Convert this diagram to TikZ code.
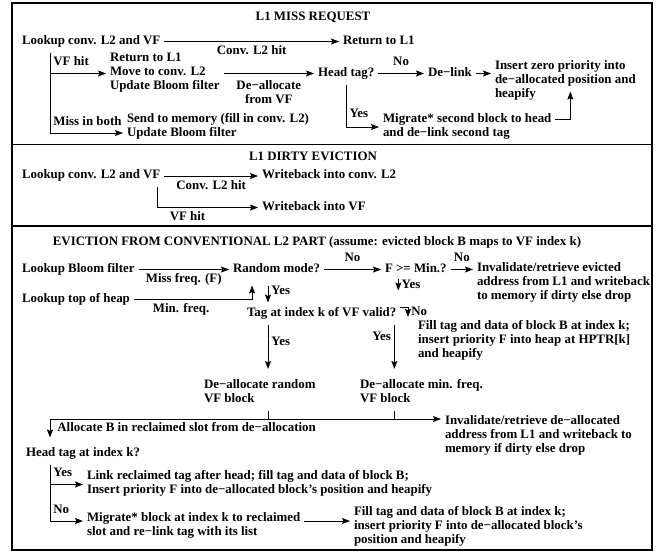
\documentclass[tikz,border=0pt]{standalone}
\usepackage{fontspec}
\setmainfont{Liberation Serif}
\usetikzlibrary{arrows.meta}
\begin{document}
\begin{tikzpicture}[x=1pt, y=-1pt, line width=0.8pt,
  font=\fontsize{12.9}{14}\selectfont\bfseries,
  txt/.style={anchor=west, inner sep=0pt, outer sep=4pt, align=left,
    execute at begin node=\strut, execute at end node=\strut},
  ttl/.style={inner sep=0pt, execute at begin node=\strut},
  lbl/.style={inner sep=3pt, execute at begin node=\strut},
  arr/.style={-{Stealth[length=8pt, width=6pt, inset=1.5pt]}},
  arrs/.style={{Stealth[length=8pt, width=6pt, inset=1.5pt]}-{Stealth[length=8pt, width=6pt, inset=1.5pt]}},
  frame/.style={line width=1.6pt}]
\useasboundingbox (0,0) rectangle (659,552);
%\draw[help lines, step=10pt] (0,0) grid (659,552);
\draw[frame] (12,3) rectangle (652,550);
\draw[frame] (12,144.5) -- (652,144.5);
\draw[frame] (12,226) -- (652,226);
%%%%%%%%%%%%%%%%%%%%%%%%%%%%%%% L1 miss request
\node[ttl](t1) at (313,17.5){L1 MISS REQUEST};
\node[txt](lk1) at (18,41.5){Lookup conv. L2 and VF};
\node[txt](ret1) at (339,41.5){Return to L1};
\node[txt](vfh) at (106,73.5){Return to L1\\Move to conv. L2\\Update Bloom filter};
\node[txt](head) at (314,73.5){Head tag?};
\node[txt](dlk) at (424,73.5){De−link};
\node[txt](ins) at (491,81.5){Insert zero priority into\\de−allocated position and\\heapify};
\node[txt](mig) at (379,127){Migrate* second block to head\\and de−link second tag};
\node[txt](mem) at (123,127){Send to memory (fill in conv. L2)\\Update Bloom filter};
\draw[arr] (lk1) -- node[lbl, below]{Conv. L2 hit}(ret1);
\draw[arr] ([xshift=32pt]lk1.south west) |- node[lbl, above right, pos=0.5]{VF hit}(vfh);
\draw[arr] ([xshift=32pt]lk1.south west) |- node[lbl, above right, pos=0.5]{Miss in both}([yshift=-6pt]mem.west);
\draw[arr] (vfh) -- node[lbl, below=4pt, align=center]{De−allocate\\from VF}(head);
\draw[arr] (head) -- node[lbl, above]{No}(dlk);
\draw[arr] (dlk) -- (dlk -| ins.west);
\draw[arr] (head) |- node[lbl, right, pos=0.35]{Yes}(mig);
\draw[arr] ([yshift=-9.5pt]mig.north east) -| ([xshift=5pt, yshift=14.5pt]ins.south);
%%%%%%%%%%%%%%%%%%%%%%%%%%%%%%% L1 dirty eviction
\node[ttl](t2) at (313,157.5){L1 DIRTY EVICTION};
\node[txt](lk2) at (18,176){Lookup conv. L2 and VF};
\node[txt](wb1) at (258,176){Writeback into conv. L2};
\node[txt](wb2) at (258,207.5){Writeback into VF};
\draw[arr] (lk2) -- node[lbl, below]{Conv. L2 hit}(wb1);
\draw[arr] ([xshift=-7pt]lk2.south east) |- node[lbl, below, pos=0.65]{VF hit}(wb2);
%%%%%%%%%%%%%%%%%%%%%%%%%%%%%%% eviction from conventional L2 part
\node[ttl](t3) at (317,242.5){EVICTION FROM CONVENTIONAL L2 PART (assume: evicted block B maps to VF index k)};
\node[txt](blm) at (18,269.5){Lookup Bloom filter};
\node[txt](rnd) at (229,269.5){Random mode?};
\node[txt](fmn) at (381,269.5){F >= Min.?};
\node[txt](ev1) at (473,283){Invalidate/retrieve evicted\\address from L1 and writeback\\to memory if dirty else drop};
\node[txt](hp) at (18,299.5){Lookup top of heap};
\node[txt](tag) at (243,313.5){Tag at index k of VF valid?};
\node[txt](fl1) at (414,341.5){Fill tag and data of block B at index k;\\insert priority F into heap at HPTR[k]\\and heapify};
\node[txt](dr) at (200,393.5){De−allocate random\\VF block};
\node[txt](dm) at (356,393.5){De−allocate min. freq.\\VF block};
\node[txt](ev2) at (441,436){Invalidate/retrieve de−allocated\\address from L1 and writeback to\\memory if dirty else drop};
\node[txt](hk) at (22,453.5){Head tag at index k?};
\node[txt](lnk) at (83,484.5){Link reclaimed tag after head; fill tag and data of block B;\\Insert priority F into de−allocated block's position and heapify};
\node[txt](mgb) at (83,526){Migrate* block at index k to reclaimed\\slot and re−link tag with its list};
\node[txt](fl2) at (350,527){Fill tag and data of block B at index k;\\insert priority F into de−allocated block's\\position and heapify};
\coordinate(rup) at ([xshift=-24.5pt, yshift=-5pt]rnd.south);
\coordinate(ry) at ([xshift=-8.5pt, yshift=-5pt]rnd.south);
\coordinate(fy) at ([xshift=-17.5pt, yshift=2pt]fmn.south);
\coordinate(ts) at ([xshift=-6pt]tag.south east);
\coordinate(bar) at ([yshift=17pt]ev2.west);
\draw[arr] (blm) -- node[lbl, below]{Miss freq. (F)}(rnd);
\draw[arr] (hp) -| node[lbl, below, pos=0.2]{Min. freq.}(rup);
\draw[arr] (ry) -- node[lbl, right, pos=0.35]{Yes}(ry |- tag.north);
\draw[arr] (rnd) -- node[lbl, above]{No}(fmn);
\draw[arr] (fmn) -- node[lbl, above]{No}(fmn -| ev1.west);
\draw[arr] (fy) -- node[lbl, right, pos=0.6]{Yes}([yshift=-12pt]fy);
\draw[arr] ([yshift=6pt]tag.east) -| node[lbl, right, pos=0.8]{No}([xshift=-6pt]fl1.north west);
\draw[arr] (ry |- tag.south) -- node[lbl, right, pos=0.4]{Yes}([yshift=7pt]ry |- dr.north);
\draw[arr] (ts) -- node[lbl, left, pos=0.3]{Yes}([yshift=7pt]ts |- dm.north);
\draw (ry |- dr.south) -- (ry |- bar);
\draw (ts |- dm.south) -- (ts |- bar);
\draw[arrs] ([xshift=28pt, yshift=5pt]hk.north west) |- node[lbl, right=4pt, pos=0.25]{Allocate B in reclaimed slot from de−allocation}(bar -| ev2.west);
\draw[arr] ([xshift=28pt]hk.south west) |- node[lbl, above right, pos=0.5]{Yes}(lnk);
\draw[arr] ([xshift=28pt]hk.south west) |- node[lbl, above right, pos=0.5]{No}([yshift=5pt]mgb.west);
\draw[arr] ([yshift=5pt]mgb.east) -- ([yshift=5pt]mgb.east -| fl2.west);
\end{tikzpicture}
\end{document}
